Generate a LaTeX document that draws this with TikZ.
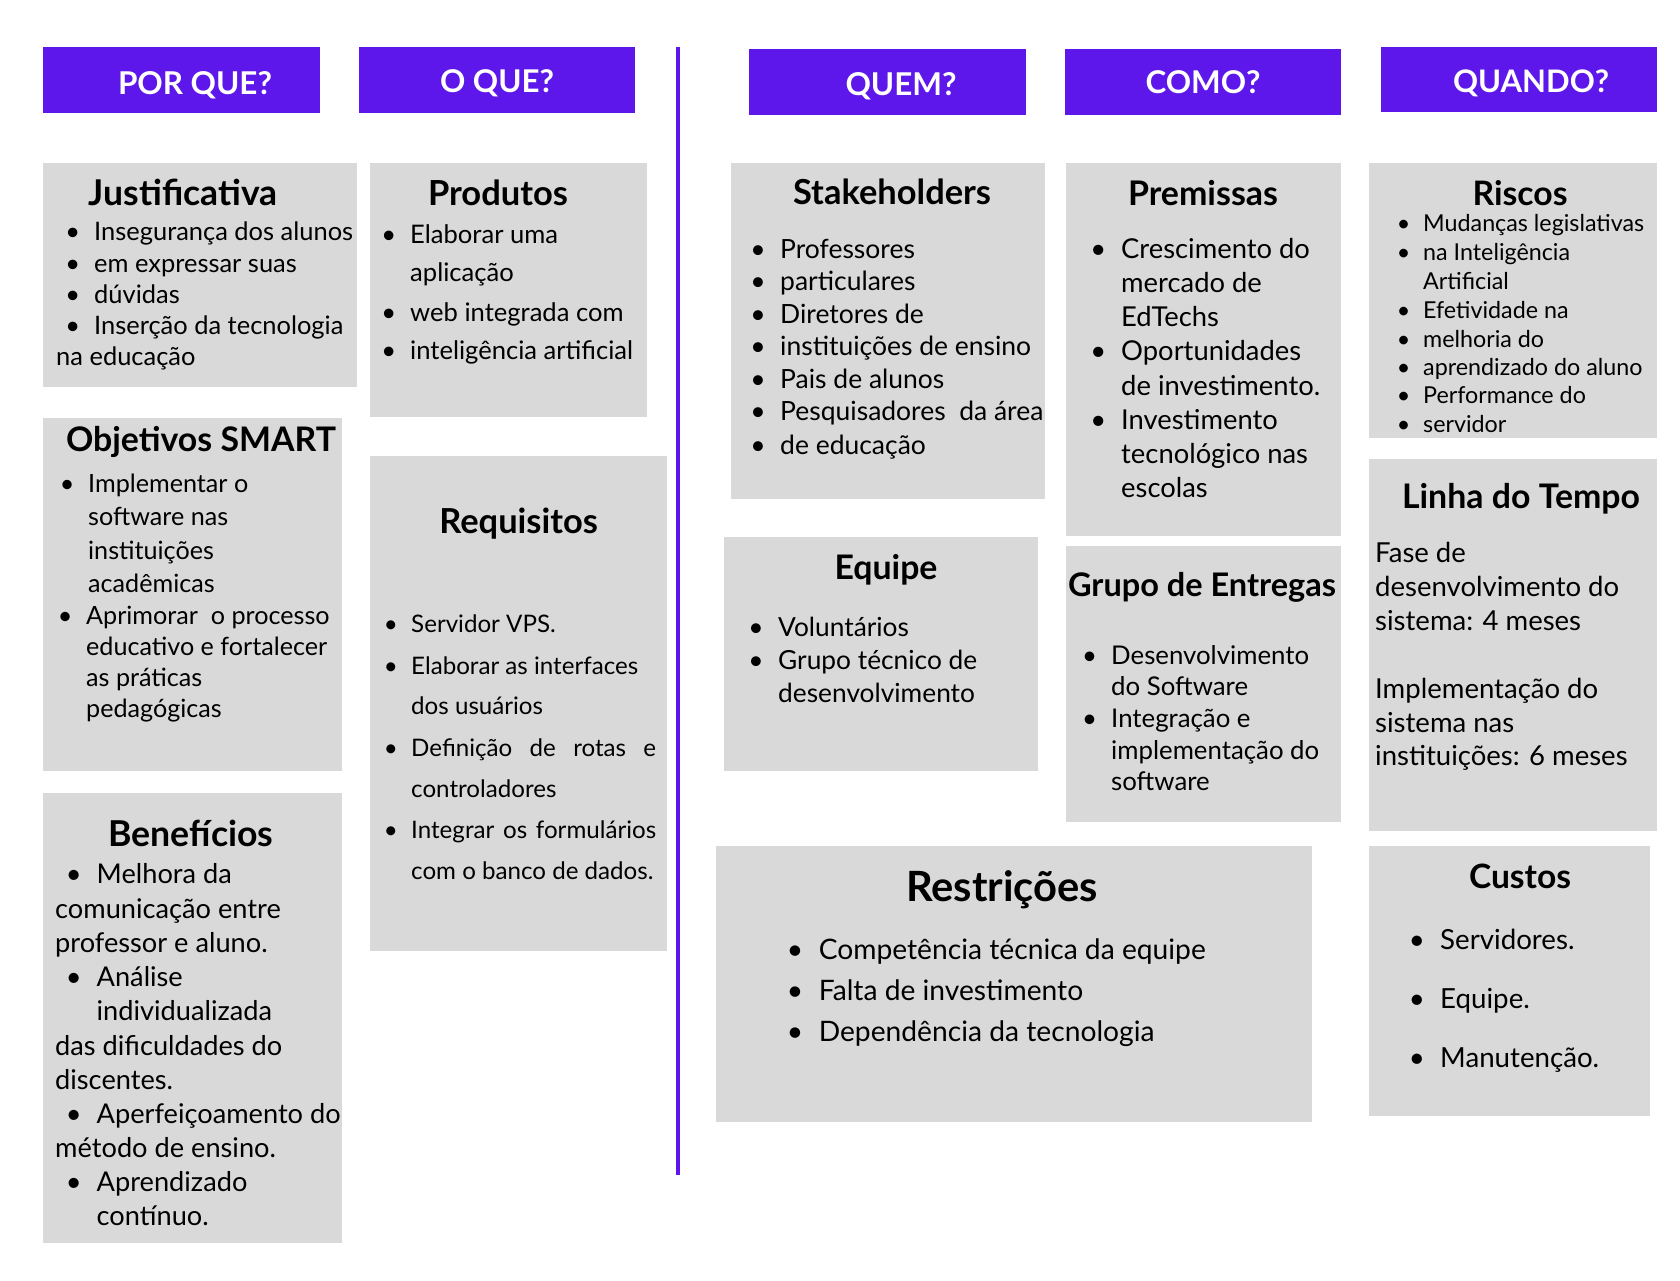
\documentclass[tikz,border=0pt]{standalone}
\usepackage{fontspec}
\setmainfont{Lato}
\usetikzlibrary{fit}
\definecolor{hdrpurple}{HTML}{5E17EB}
\definecolor{panelgray}{HTML}{D9D9D9}
\newlength\samplewd
% font size (pt) at which #3 is #2 pt wide
\newcommand\fitsize[3]{\pgfinterruptpicture\settowidth\samplewd{\fontsize{10}{12}\selectfont #3}\global\samplewd=\samplewd\endpgfinterruptpicture
  \pgfmathsetmacro#1{10*#2/\samplewd}}
% bullet hanging left of the text start
\newcommand\bu{\llap{•\hspace{0.55em}}}
% heading / title text node: name, centre x, baseline y, width, text
\newcommand\headtext[5]{\fitsize{\tmpsz}{#4}{\bfseries #5}%
  \node[hdrtxt, font=\fontsize{\tmpsz}{\tmpsz}\selectfont\bfseries] (#1) at (#2,#3) {#5};}
\newcommand\paneltitle[5]{\fitsize{\tmpsz}{#4}{\bfseries #5}%
  \node[ttltxt, font=\fontsize{\tmpsz}{\tmpsz}\selectfont\bfseries] (#1) at (#2,#3) {#5};}
\newcommand\panel[5]{\node[panelbox, fit={(#2,#3) (#4,#5)}] (#1) {};}
\newcommand\header[5]{\node[hdrbox, fit={(#2,#3) (#4,#5)}] (#1) {};}
\newcommand\bodysize[2]{\fitsize{\bsz}{#1}{#2}}

\begin{document}
\begin{tikzpicture}[x=1pt, y=-1pt,
  panelbox/.style={fill=panelgray, draw=none, inner sep=0pt},
  hdrbox/.style={fill=hdrpurple, draw=none, inner sep=0pt},
  hdrtxt/.style={anchor=base, inner sep=0pt, text=white},
  ttltxt/.style={anchor=base, inner sep=0pt, text=black, yshift=-2pt},
  bt/.style={anchor=mid west, inner sep=0pt, text=black, yshift=-7pt},
  divider/.style={draw=hdrpurple, line width=4pt}]

\fill[white] (0,0) rectangle (1680,1280);
\useasboundingbox (0,0) rectangle (1680,1280);

% ---- column headers ----
\header{hPor}{43}{47}{320}{113}
\header{hOque}{359}{47}{635}{113}
\header{hQuem}{749}{49}{1026}{115}
\header{hComo}{1065}{49}{1341}{115}
\header{hQuando}{1381}{47}{1657}{112}
\headtext{tPor}{195}{94}{154}{POR QUE?}
\headtext{tOque}{497}{92}{114}{O QUE?}
\headtext{tQuem}{901}{95.4}{111}{QUEM?}
\headtext{tComo}{1203}{93.2}{115}{COMO?}
\headtext{tQuando}{1531}{92}{156}{QUANDO?}

% ---- divider between the two halves ----
\coordinate (divTop) at (678,47);
\coordinate (divBot) at (678,1175);
\draw[divider] (divTop) -- (divBot);

% ---- panels ----
\panel{pJust}{43}{163}{357}{387}
\panel{pProd}{370}{163}{647}{417}
\panel{pObj}{43}{418}{342}{771}
\panel{pReq}{370}{456}{667}{951}
\panel{pBen}{43}{793}{342}{1243}
\panel{pStak}{731}{163}{1045}{499}
\panel{pEqu}{724}{537}{1038}{771}
\panel{pPrem}{1066}{163}{1341}{536}
\panel{pGrp}{1066}{546}{1341}{822}
\panel{pRisc}{1369}{163}{1657}{438}
\panel{pLinha}{1369}{459}{1657}{831}
\panel{pRestr}{716}{846}{1312}{1122}
\panel{pCust}{1369}{846}{1650}{1116}

% ---- panel titles ----
\paneltitle{ttJust}{183}{203}{188.6}{Justificativa}
\paneltitle{ttProd}{498}{203}{140}{Produtos}
\paneltitle{ttObj}{201}{449}{270}{Objetivos SMART}
\paneltitle{ttReq}{518.6}{531}{158.6}{Requisitos}
\paneltitle{ttBen}{191}{844.5}{165}{Benefícios}
\paneltitle{ttStak}{892}{202}{198}{Stakeholders}
\paneltitle{ttEqu}{886}{577}{103}{Equipe}
\paneltitle{ttPrem}{1203}{203}{150}{Premissas}
\paneltitle{ttGrp}{1202}{594}{268}{Grupo de Entregas}
\paneltitle{ttRisc}{1520}{203}{95}{Riscos}
\paneltitle{ttLinha}{1521}{506}{238}{Linha do Tempo}
\paneltitle{ttRestr}{1002}{899}{192}{Restrições}
\paneltitle{ttCust}{1520}{886}{102}{Custos}

% ---- Justificativa ----
\bodysize{259}{Insegurança dos alunos}
\begin{scope}[font=\fontsize{\bsz}{\bsz}\selectfont]
\node[bt] (j1) at (94,231) {\bu Insegurança dos alunos};
\node[bt] (j2) at (94,262.5) {\bu em expressar suas};
\node[bt] (j3) at (94,293.6) {\bu dúvidas};
\node[bt] (j4) at (94,324.6) {\bu Inserção da tecnologia};
\node[bt] (j5) at (56,356) {na educação};
\end{scope}

% ---- Produtos ----
\bodysize{223}{inteligência artificial}
\begin{scope}[font=\fontsize{\bsz}{\bsz}\selectfont]
\node[bt] (pr1) at (410,233.6) {\bu Elaborar uma};
\node[bt] (pr2) at (410,272) {aplicação};
\node[bt] (pr3) at (410,312) {\bu web integrada com};
\node[bt] (pr4) at (410,350) {\bu inteligência artificial};
\end{scope}

% ---- Objetivos SMART ----
\bodysize{241}{educativo e fortalecer}
\begin{scope}[font=\fontsize{\bsz}{\bsz}\selectfont]
\node[bt] (o1) at (88,483) {\bu Implementar o};
\node[bt] (o2) at (88,516) {software nas};
\node[bt] (o3) at (88,550) {instituições};
\node[bt] (o4) at (88,583) {acadêmicas};
\node[bt] (o5) at (86,615) {\bu Aprimorar\ \ o processo};
\node[bt] (o6) at (86,646) {educativo e fortalecer};
\node[bt] (o7) at (86,677) {as práticas};
\node[bt] (o8) at (86,708) {pedagógicas};
\end{scope}

% ---- Requisitos ----
\bodysize{227}{Elaborar as interfaces}
\begin{scope}[font=\fontsize{\bsz}{\bsz}\selectfont]
\node[bt] (r1) at (411,622.5) {\bu Servidor VPS.};
\node[bt] (r2) at (411,665) {\bu Elaborar as interfaces};
\node[bt] (r3) at (411,705) {dos usuários};
\node[bt] (r4) at (411,747) {\bu\makebox[245pt][s]{Definição de rotas e}};
\node[bt] (r5) at (411,787.5) {controladores};
\node[bt] (r6) at (411,829) {\bu\makebox[245pt][s]{Integrar os formulários}};
\node[bt] (r7) at (411,870) {com o banco de dados.};
\end{scope}

% ---- Benefícios ----
\bodysize{244}{Aperfeiçoamento do}
\begin{scope}[font=\fontsize{\bsz}{\bsz}\selectfont]
\node[bt] (b1) at (96.5,874) {\bu Melhora da};
\node[bt] (b2) at (55,908.5) {comunicação entre};
\node[bt] (b3) at (55,943) {professor e aluno.};
\node[bt] (b4) at (96.5,977) {\bu Análise};
\node[bt] (b5) at (96.5,1011) {individualizada};
\node[bt] (b6) at (55,1046) {das dificuldades do};
\node[bt] (b7) at (55,1080) {discentes.};
\node[bt] (b8) at (96.5,1114) {\bu Aperfeiçoamento do};
\node[bt] (b9) at (55,1147.5) {método de ensino.};
\node[bt] (b10) at (96.5,1182) {\bu Aprendizado};
\node[bt] (b11) at (96.5,1216) {contínuo.};
\end{scope}

% ---- Stakeholders ----
\bodysize{251}{instituições de ensino}
\begin{scope}[font=\fontsize{\bsz}{\bsz}\selectfont]
\node[bt] (s1) at (780,248.6) {\bu Professores};
\node[bt] (s2) at (780,281) {\bu particulares};
\node[bt] (s3) at (780,314) {\bu Diretores de};
\node[bt] (s4) at (780,346) {\bu instituições de ensino};
\node[bt] (s5) at (780,379) {\bu Pais de alunos};
\node[bt] (s6) at (780,411.4) {\bu Pesquisadores\ \ da área};
\node[bt] (s7) at (780,444.6) {\bu de educação};
\end{scope}

% ---- Equipe ----
\bodysize{199}{Grupo técnico de}
\begin{scope}[font=\fontsize{\bsz}{\bsz}\selectfont]
\node[bt] (e1) at (778,627) {\bu Voluntários};
\node[bt] (e2) at (778,660) {\bu Grupo técnico de};
\node[bt] (e3) at (778,693) {desenvolvimento};
\end{scope}

% ---- Premissas ----
\bodysize{199}{de investimento.}
\begin{scope}[font=\fontsize{\bsz}{\bsz}\selectfont]
\node[bt] (m1) at (1121,248.6) {\bu Crescimento do};
\node[bt] (m2) at (1121,283) {mercado de};
\node[bt] (m3) at (1121,317) {EdTechs};
\node[bt] (m4) at (1121,351) {\bu Oportunidades};
\node[bt] (m5) at (1121,386) {de investimento.};
\node[bt] (m6) at (1121,420) {\bu Investimento};
\node[bt] (m7) at (1121,454) {tecnológico nas};
\node[bt] (m8) at (1121,487.5) {escolas};
\end{scope}

% ---- Grupo de Entregas ----
\bodysize{208}{implementação do}
\begin{scope}[font=\fontsize{\bsz}{\bsz}\selectfont]
\node[bt] (g1) at (1111,654.6) {\bu Desenvolvimento};
\node[bt] (g2) at (1111,685.7) {do Software};
\node[bt] (g3) at (1111,718) {\bu Integração e};
\node[bt] (g4) at (1111,750) {implementação do};
\node[bt] (g5) at (1111,781) {software};
\end{scope}

% ---- Riscos ----
\bodysize{221}{Mudanças legislativas}
\begin{scope}[font=\fontsize{\bsz}{\bsz}\selectfont]
\node[bt] (k1) at (1423,222) {\bu Mudanças legislativas};
\node[bt] (k2) at (1423,251) {\bu na Inteligência};
\node[bt] (k3) at (1423,280) {Artificial};
\node[bt] (k4) at (1423,308.6) {\bu Efetividade na};
\node[bt] (k5) at (1423,337.5) {\bu melhoria do};
\node[bt] (k6) at (1423,366.4) {\bu aprendizado do aluno};
\node[bt] (k7) at (1423,394) {\bu Performance do};
\node[bt] (k8) at (1423,423) {\bu servidor};
\end{scope}

% ---- Linha do Tempo ----
\bodysize{244}{desenvolvimento do}
\begin{scope}[font=\fontsize{\bsz}{\bsz}\selectfont]
\node[bt] (l1) at (1375,553) {Fase de};
\node[bt] (l2) at (1375,587) {desenvolvimento do};
\node[bt] (l3) at (1375,621) {sistema: 4 meses};
\node[bt] (l4) at (1375,689) {Implementação do};
\node[bt] (l5) at (1375,723) {sistema nas};
\node[bt] (l6) at (1375,756.4) {instituições: 6 meses};
\end{scope}

% ---- Restrições ----
\bodysize{387}{Competência técnica da equipe}
\begin{scope}[font=\fontsize{\bsz}{\bsz}\selectfont]
\node[bt] (x1) at (818.6,950) {\bu Competência técnica da equipe};
\node[bt] (x2) at (818.6,991) {\bu Falta de investimento};
\node[bt] (x3) at (818.6,1032) {\bu Dependência da tecnologia};
\end{scope}

% ---- Custos ----
\bodysize{159}{Manutenção.}
\begin{scope}[font=\fontsize{\bsz}{\bsz}\selectfont]
\node[bt] (c1) at (1440,940) {\bu Servidores.};
\node[bt] (c2) at (1440,998.5) {\bu Equipe.};
\node[bt] (c3) at (1440,1057.5) {\bu Manutenção.};
\end{scope}
\end{tikzpicture}
\end{document}
